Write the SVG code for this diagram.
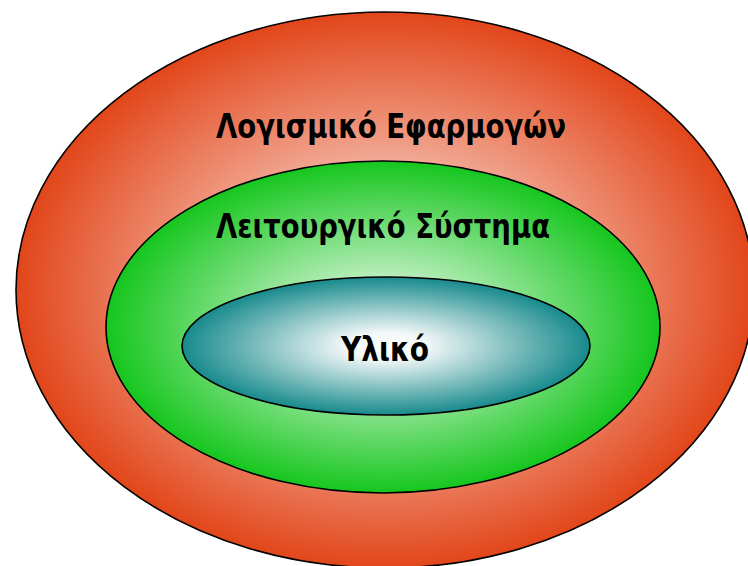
<svg xmlns="http://www.w3.org/2000/svg" width="748" height="566" viewBox="0 0 748 566">
<style>
.ring{stroke:#000;stroke-width:1.6}
.lbl{font-family:"DejaVu Sans","Liberation Sans",sans-serif;font-weight:bold;fill:#000;text-anchor:middle}
</style>
<defs>
<radialGradient id="gRed" cx="50%" cy="50%" r="50%">
<stop offset="0" stop-color="#ffffff"/>
<stop offset="1" stop-color="#e2461a"/>
</radialGradient>
<radialGradient id="gGreen" cx="50%" cy="50%" r="50%">
<stop offset="0" stop-color="#ffffff"/>
<stop offset="1" stop-color="#16c61e"/>
</radialGradient>
<radialGradient id="gTeal" cx="50%" cy="50%" r="50%">
<stop offset="0" stop-color="#ffffff"/>
<stop offset="0.2" stop-color="#f2f7f7"/>
<stop offset="1" stop-color="#178a8c"/>
</radialGradient>
</defs>
<rect width="748" height="566" fill="#ffffff"/>
<g id="applications">
<ellipse class="ring" cx="385" cy="290" rx="369" ry="278" fill="url(#gRed)"/>
<text class="lbl" x="391" y="138" font-size="33" textLength="350" lengthAdjust="spacingAndGlyphs">Λογισμικό Εφαρμογών</text>
</g>
<g id="os">
<ellipse class="ring" cx="383" cy="327" rx="277" ry="166" fill="url(#gGreen)"/>
<text class="lbl" x="383" y="238" font-size="33" textLength="334" lengthAdjust="spacingAndGlyphs">Λειτουργικό Σύστημα</text>
</g>
<g id="hardware">
<ellipse class="ring" cx="386" cy="346" rx="204" ry="69" fill="url(#gTeal)"/>
<text class="lbl" x="385" y="361" font-size="33" textLength="88" lengthAdjust="spacingAndGlyphs">Υλικό</text>
</g>
<g id="connectors"/>
</svg>
